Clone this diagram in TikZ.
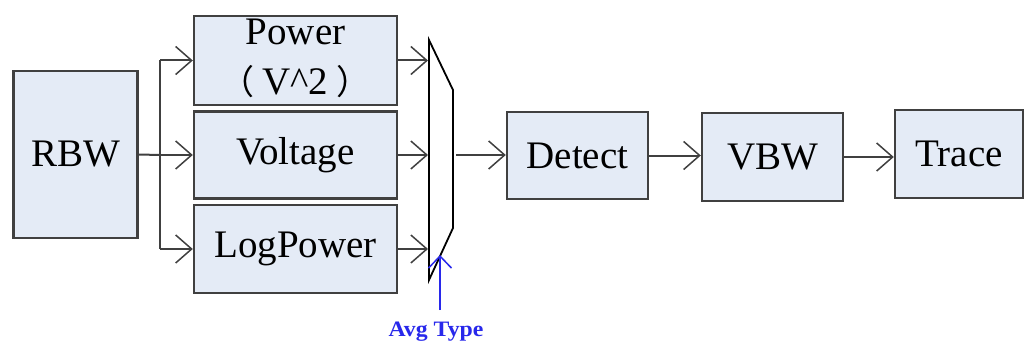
\documentclass[tikz,border=0pt]{standalone}
\usepackage{fontspec}
\setmainfont{Liberation Serif}
\newfontfamily\cjk{Noto Sans CJK SC}
\usetikzlibrary{arrows.meta}
\definecolor{boxfill}{RGB}{228,235,246}
\definecolor{boxline}{RGB}{64,64,64}
\definecolor{avgblue}{RGB}{40,40,235}
\tikzset{
  blk/.style={draw=boxline, line width=2.4pt, fill=boxfill, inner sep=0pt,
    font=\fontsize{39}{41}\selectfont, text=black},
  wire/.style={draw=black!75, line width=2pt},
  arr/.style={wire, -{Straight Barb[length=16pt,width=28pt,line width=1.5pt]}},
  bluearr/.style={draw=avgblue, line width=1.8pt, -{Straight Barb[length=12pt,width=23pt,line width=1.5pt]}}
}
\begin{document}
\begin{tikzpicture}[x=1pt,y=-1pt]
\useasboundingbox (0,0) rectangle (1025,342);
\node[blk, minimum width=124pt, minimum height=167pt] (RBW) at (75.5,154.5) {RBW};
\node[blk, minimum width=203pt, minimum height=89pt] (Power) at (295.5,60.5) {};
\node (PowerT) at (295.5,45) [anchor=base, font=\fontsize{39}{41}\selectfont, inner sep=0pt] {Power};
\node (PowerV) at (295.5,95) [anchor=base, font=\fontsize{39}{41}\selectfont, inner sep=0pt] {{\cjk\fontsize{34}{36}\selectfont （}\hspace{8pt}V\^{}2\hspace{8pt}{\cjk\fontsize{34}{36}\selectfont ）}};
\node[blk, minimum width=203pt, minimum height=87pt] (Voltage) at (295.5,155) {Voltage};
\node[blk, minimum width=203pt, minimum height=88pt] (LogPower) at (295.5,249) {LogPower};
\node[blk, minimum width=141pt, minimum height=87pt] (Detect) at (577.5,155.5) {Detect};
\node[blk, minimum width=141pt, minimum height=88pt] (VBW) at (772.5,157) {VBW};
\node[blk, minimum width=128pt, minimum height=88pt] (Trace) at (959,154) {Trace};
% mux
\coordinate (m1) at (429,40);
\coordinate (m2) at (453,90);
\coordinate (m3) at (453,228);
\coordinate (m4) at (429,280);
\draw[line width=1.8pt, black, line join=miter] (m1) -- (m2) -- (m3) -- (m4) -- cycle;
\coordinate (muxL) at (428,155);
\coordinate (muxR) at (456,155);
% branch
\coordinate (br) at (160,155);
\draw[wire] (RBW.east) -- (br);
\draw[wire] (Power.west -| br) -- (LogPower.west -| br);
\draw[arr] (Power.west -| br) -- (Power.west);
\draw[arr] (br) -- (Voltage.west);
\draw[arr] (LogPower.west -| br) -- (LogPower.west);
% into mux
\draw[arr] (Power.east) -- (Power.east -| muxL);
\draw[arr] (Voltage.east) -- (Voltage.east -| muxL);
\draw[arr] (LogPower.east) -- (LogPower.east -| muxL);
% chain
\draw[arr] (muxR) -- (muxR -| Detect.west);
\draw[arr] (Detect.east) -- (Detect.east -| VBW.west);
\draw[arr] (VBW.east) -- (VBW.east -| Trace.west);
% avg type
\coordinate (avgtail) at (440,310);
\coordinate (avgtip) at (440,255);
\draw[bluearr] (avgtail) -- (avgtip);
\node (avg) at (436,336) [anchor=base, inner sep=0pt, text=avgblue, font=\bfseries\fontsize{22}{24}\selectfont] {\scalebox{1.08}[1]{Avg Type}};
\end{tikzpicture}
\end{document}
